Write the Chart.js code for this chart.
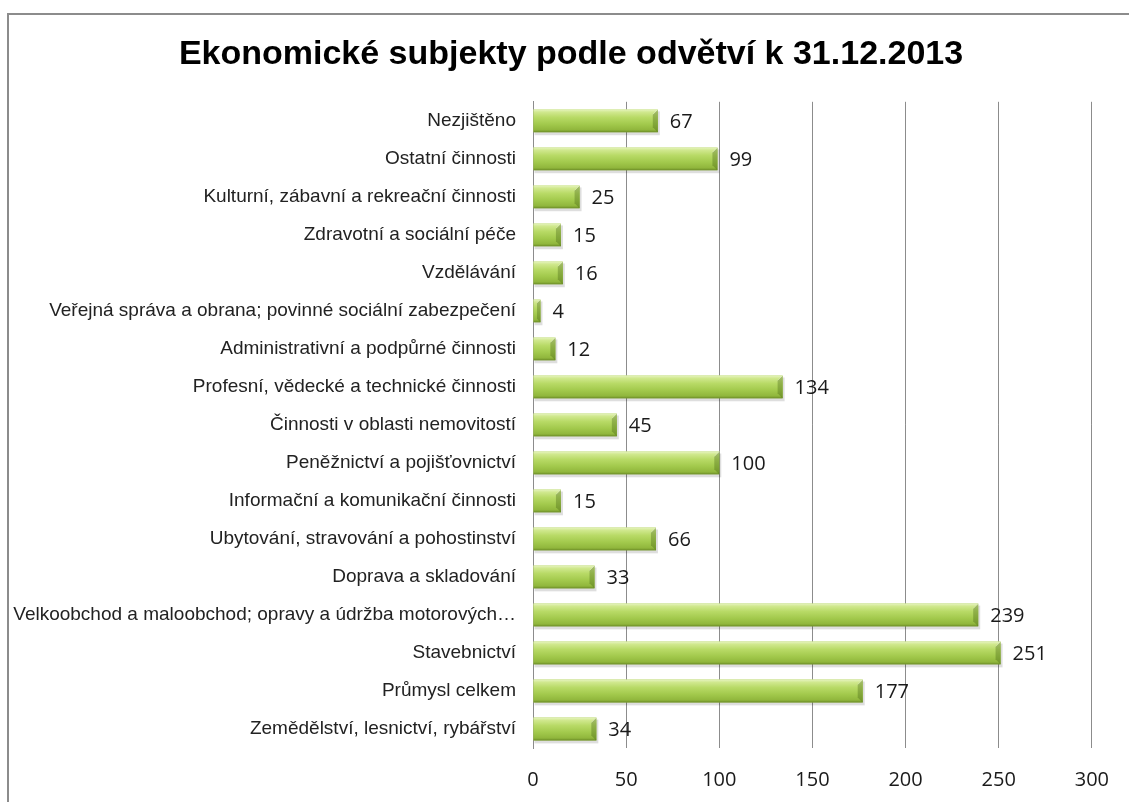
<!DOCTYPE html>
<html>
<head>
<meta charset="utf-8">
<script src="https://cdn.jsdelivr.net/npm/chart.js@4"></script>
<style>
  html, body { margin: 0; padding: 0; background: #fff; overflow: hidden; }
  #frame { position: absolute; left: 7px; top: 13px; width: 1200px; height: 900px; border: 2px solid #8c8c8c; box-sizing: border-box; }
  #wrap { position: absolute; left: 0; top: 0; width: 1129px; height: 802px; }
</style>
</head>
<body>
<div id="frame"></div>
<div id="wrap"><canvas id="chart"></canvas></div>
<script>
    // Data (top to bottom as in the picture)
    const categories = [
        'Nezjištěno',
        'Ostatní činnosti',
        'Kulturní, zábavní a rekreační činnosti',
        'Zdravotní a sociální péče',
        'Vzdělávání',
        'Veřejná správa a obrana; povinné sociální zabezpečení',
        'Administrativní a podpůrné činnosti',
        'Profesní, vědecké a technické činnosti',
        'Činnosti v oblasti nemovitostí',
        'Peněžnictví a pojišťovnictví',
        'Informační a komunikační činnosti',
        'Ubytování, stravování a pohostinství',
        'Doprava a skladování',
        'Velkoobchod a maloobchod; opravy a údržba motorových…',
        'Stavebnictví',
        'Průmysl celkem',
        'Zemědělství, lesnictví, rybářství'
    ];
    const subjectCounts = [67, 99, 25, 15, 16, 4, 12, 134, 45, 100, 15, 66, 33, 239, 251, 177, 34];
    const xTicks = [0, 50, 100, 150, 200, 250, 300];

    const numberFont = '"Open Sans", "Noto Sans", sans-serif';
    const labelFont = '"Liberation Sans", Arial, sans-serif';

    // Paint the bars with a bevelled green gradient
    const bevelBars = {
        id: 'bevelBars',
        afterDatasetsDraw(chart) {
            const ctx = chart.ctx;
            const meta = chart.getDatasetMeta(0);
            meta.data.forEach(bar => {
                const p = bar.getProps(['x', 'y', 'base', 'height'], true);
                const left = Math.min(p.base, p.x);
                const right = Math.max(p.base, p.x);
                const top = p.y - p.height / 2;
                const h = p.height;
                const w = right - left;
                ctx.save();
                // soft shadow
                ctx.fillStyle = 'rgba(0,0,0,0.13)';
                ctx.fillRect(left + 1, top + 2, w + 1, h + 1);
                const g = ctx.createLinearGradient(0, top, 0, top + h);
                g.addColorStop(0, '#e6f4bf');
                g.addColorStop(0.12, '#d0e88e');
                g.addColorStop(0.35, '#b8da66');
                g.addColorStop(0.65, '#a2c94c');
                g.addColorStop(0.9, '#90b63c');
                g.addColorStop(1, '#6b8c26');
                ctx.fillStyle = g;
                ctx.fillRect(left, top, w, h);
                // right end bevel
                const b = Math.min(5, w / 2);
                ctx.fillStyle = 'rgba(70,100,20,0.35)';
                ctx.beginPath();
                ctx.moveTo(right, top); ctx.lineTo(right, top + h);
                ctx.lineTo(right - b, top + h - b); ctx.lineTo(right - b, top + b);
                ctx.closePath(); ctx.fill();
                ctx.strokeStyle = 'rgba(255,255,255,0.35)';
                ctx.lineWidth = 1;
                ctx.beginPath();
                ctx.moveTo(right - b, top + b); ctx.lineTo(right, top);
                ctx.stroke();
                ctx.restore();
            });
        }
    };

    // Value labels right of each bar
    const valueLabels = {
        id: 'valueLabels',
        afterDatasetsDraw(chart) {
            const ctx = chart.ctx;
            const meta = chart.getDatasetMeta(0);
            ctx.save();
            ctx.font = '20px ' + numberFont;
            ctx.fillStyle = '#1a1a1a';
            ctx.textAlign = 'left';
            ctx.textBaseline = 'middle';
            meta.data.forEach((bar, i) => {
                const p = bar.getProps(['x', 'y'], true);
                ctx.fillText(String(subjectCounts[i]), p.x + 12, p.y + 1);
            });
            ctx.restore();
        }
    };

    // nudge the title a bit to the right (it sits over the whole frame, not the axis box)
    const titleShift = {
        id: 'titleShift',
        afterLayout(chart) {
            if (chart.titleBlock) chart.titleBlock.left += 30;
        }
    };

    const ctx = document.getElementById('chart').getContext('2d');
    const chart = new Chart(ctx, {
        type: 'bar',
        data: {
            labels: categories,
            datasets: [{
                data: subjectCounts,
                backgroundColor: '#a8cc50',
                borderWidth: 0,
                categoryPercentage: 1,
                barPercentage: 0.6
            }]
        },
        options: {
            indexAxis: 'y',
            responsive: true,
            maintainAspectRatio: false,
            animation: false,
            layout: {
                padding: { left: 10, right: 27, top: 34, bottom: 0 }
            },
            plugins: {
                legend: { display: false },
                tooltip: { enabled: false },
                title: {
                    display: true,
                    text: 'Ekonomické subjekty podle odvětví k 31.12.2013',
                    color: '#000',
                    font: { family: labelFont, size: 34, weight: 'bold' },
                    padding: { top: 0, bottom: 27 }
                }
            },
            scales: {
                x: {
                    min: 0,
                    max: 300,
                    afterBuildTicks(axis) {
                        axis.ticks = xTicks.map(v => ({ value: v }));
                    },
                    afterFit(axis) { axis.height = 54; },
                    grid: { color: '#8c8c8c', lineWidth: 1, drawTicks: false },
                    border: { display: false },
                    ticks: {
                        color: '#1a1a1a',
                        padding: 20,
                        maxRotation: 0,
                        font: { family: numberFont, size: 20 }
                    }
                },
                y: {
                    afterFit(axis) { axis.width = 523; },
                    grid: { display: false, drawTicks: false },
                    border: { display: true, color: '#8c8c8c', width: 1 },
                    ticks: {
                        color: '#222',
                        padding: 17,
                        autoSkip: false,
                        font: { family: labelFont, size: 19 }
                    }
                }
            }
        },
        plugins: [titleShift, bevelBars, valueLabels]
    });
</script>
</body>
</html>
